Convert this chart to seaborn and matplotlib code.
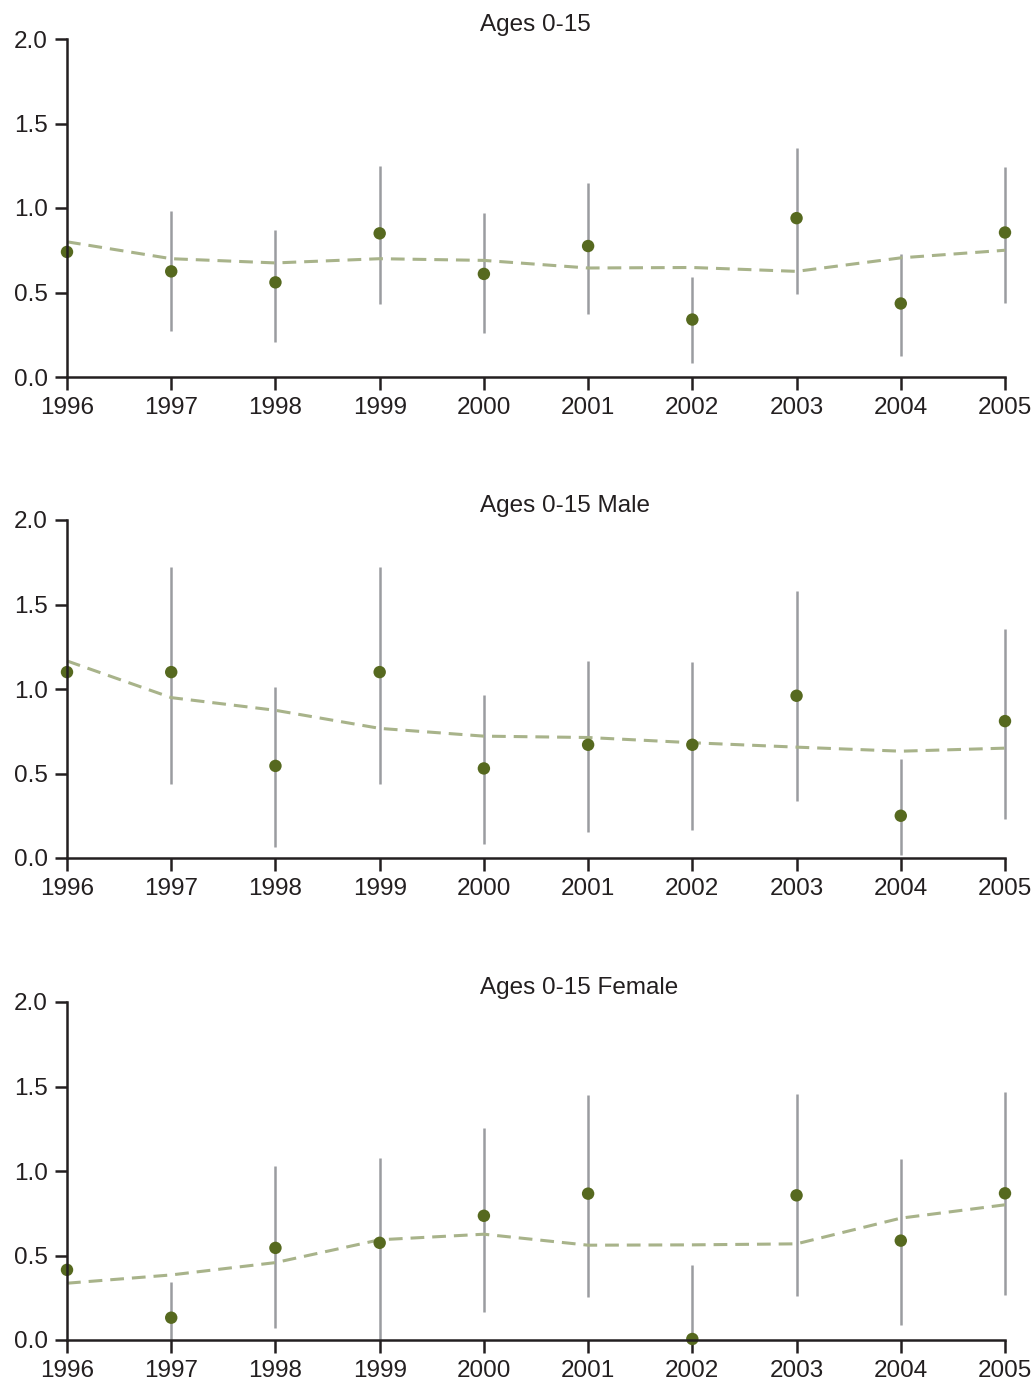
import numpy as np
import pandas as pd
import matplotlib
matplotlib.use("Agg")
import matplotlib.pyplot as plt
import seaborn as sns

years = [1996, 1997, 1998, 1999, 2000, 2001, 2002, 2003, 2004, 2005]
titles = ["Ages 0-15", "Ages 0-15 Male", "Ages 0-15 Female"]

# Observed rates (points)
all_rate = [0.74, 0.625, 0.56, 0.85, 0.61, 0.775, 0.34, 0.94, 0.435, 0.855]
male_rate = [1.10, 1.10, 0.545, 1.10, 0.53, 0.67, 0.67, 0.96, 0.25, 0.81]
female_rate = [0.415, 0.132, 0.545, 0.575, 0.735, 0.866, 0.006, 0.856, 0.588, 0.868]

# Confidence interval bounds (1996 interval not visible)
all_lo = [np.nan, 0.275, 0.21, 0.43, 0.26, 0.375, 0.085, 0.49, 0.125, 0.44]
all_hi = [np.nan, 0.985, 0.87, 1.25, 0.97, 1.15, 0.59, 1.355, 0.725, 1.245]
male_lo = [np.nan, 0.44, 0.065, 0.44, 0.083, 0.156, 0.168, 0.336, 0.02, 0.233]
male_hi = [np.nan, 1.72, 1.014, 1.72, 0.962, 1.164, 1.162, 1.58, 0.587, 1.356]
female_lo = [np.nan, 0.0, 0.073, 0.0, 0.164, 0.257, 0.0, 0.261, 0.089, 0.267]
female_hi = [np.nan, 0.346, 1.032, 1.077, 1.255, 1.447, 0.443, 1.457, 1.069, 1.466]

# Smoothed trend (dashed line)
all_trend = [0.80, 0.70, 0.675, 0.70, 0.69, 0.645, 0.648, 0.625, 0.705, 0.75]
male_trend = [1.166, 0.949, 0.874, 0.767, 0.721, 0.713, 0.682, 0.656, 0.632, 0.650]
female_trend = [0.336, 0.385, 0.458, 0.593, 0.626, 0.561, 0.563, 0.569, 0.721, 0.800]

rates = [all_rate, male_rate, female_rate]
los = [all_lo, male_lo, female_lo]
his = [all_hi, male_hi, female_hi]
trends = [all_trend, male_trend, female_trend]

POINT = "#56691f"
BAR = "#9a9ca0"
TREND = "#a8b38a"
INK = "#231f20"

sns.set_theme(style="ticks")
plt.rcParams["font.family"] = ["Liberation Sans", "DejaVu Sans"]

fig = plt.figure(figsize=(10.36, 13.84), dpi=100)
W, H = 1036.0, 1384.0
left = 67 / W
width = (1005 - 67) / W
bottoms_px = [377, 858, 1340]
height = 338 / H

for i in range(3):
    ax = fig.add_axes([left, (H - bottoms_px[i]) / H, width, height])
    df = pd.DataFrame({
        "year": years,
        "rate": rates[i],
        "lo": los[i],
        "hi": his[i],
        "trend": trends[i],
    })
    ax.vlines(df["year"], df["lo"], df["hi"], color=BAR, linewidth=1.8,
              zorder=1, clip_on=False)
    sns.lineplot(data=df, x="year", y="trend", ax=ax, color=TREND,
                 linewidth=2.2, dashes=False, zorder=2, clip_on=False)
    ax.lines[-1].set_dashes((4.5, 2.6))
    sns.scatterplot(data=df, x="year", y="rate", ax=ax, color=POINT, s=80,
                    edgecolor="none", zorder=3, clip_on=False)
    ax.set_xlim(1996, 2005)
    ax.set_ylim(0, 2.0)
    ax.set_xticks(years)
    ax.set_xticklabels([str(y) for y in years])
    ax.set_yticks([0.0, 0.5, 1.0, 1.5, 2.0])
    ax.set_yticklabels(["0.0", "0.5", "1.0", "1.5", "2.0"])
    ax.set_xlabel("")
    ax.set_ylabel("")
    for s in ["top", "right"]:
        ax.spines[s].set_visible(False)
    for s in ["left", "bottom"]:
        ax.spines[s].set_color(INK)
        ax.spines[s].set_linewidth(1.8)
        ax.spines[s].set_zorder(4)
    ax.tick_params(axis="both", colors=INK, length=9, width=1.8,
                   labelsize=17.5, labelcolor=INK)
    ax.tick_params(axis="y", pad=5)
    ax.tick_params(axis="x", pad=5.5)
    ax.text((480 - 67) / 938.0, 1.0 + 8 / 338.0, titles[i],
            transform=ax.transAxes, ha="left", va="baseline",
            fontsize=17.5, color=INK)

fig.savefig("out.png", dpi=100)
